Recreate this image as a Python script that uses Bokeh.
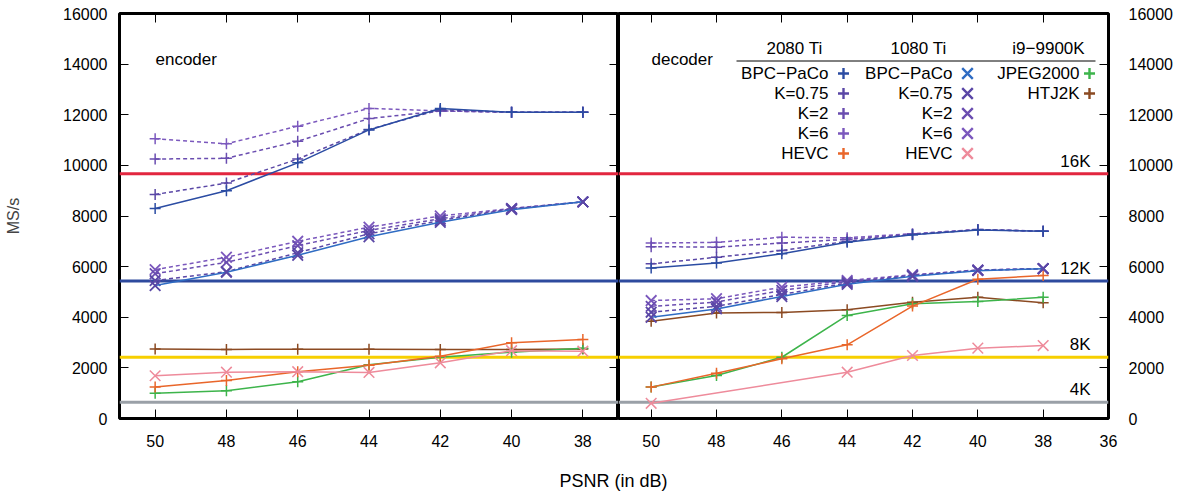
from bokeh.plotting import figure
from bokeh.models import Span, Label, LinearAxis, FixedTicker, Range1d
from bokeh.layouts import row, column
from bokeh.embed import file_html
from bokeh.resources import INLINE

FONT = "Liberation Sans"

# ---------------- data ----------------
PSNR = [50, 48, 46, 44, 42, 40, 38]
PSNR_DEC_HEVC_1080 = [50, 44, 42, 40, 38]

# encoder, RTX 2080 Ti
ENC_2080_BPC = [8300, 9000, 10100, 11400, 12250, 12100, 12100]
ENC_2080_K075 = [8850, 9300, 10250, 11420, 12200, 12100, 12100]
ENC_2080_K2 = [10250, 10280, 10950, 11850, 12150, 12100, 12100]
ENC_2080_K6 = [11050, 10850, 11550, 12250, 12150, 12100, 12100]
ENC_2080_HEVC = [1240, 1500, 1850, 2100, 2460, 2990, 3120]
# encoder, GTX 1080 Ti
ENC_1080_BPC = [5250, 5780, 6450, 7180, 7750, 8250, 8560]
ENC_1080_K075 = [5450, 5800, 6550, 7300, 7820, 8280, 8560]
ENC_1080_K2 = [5720, 6170, 6830, 7430, 7890, 8290, 8560]
ENC_1080_K6 = [5880, 6370, 7000, 7560, 8000, 8300, 8560]
ENC_1080_HEVC = [1690, 1830, 1850, 1820, 2200, 2680, 2660]
# encoder, i9-9900K
ENC_JPEG2000 = [1000, 1100, 1450, 2120, 2420, 2620, 2780]
ENC_HTJ2K = [2750, 2730, 2740, 2740, 2730, 2730, 2750]

# decoder, RTX 2080 Ti
DEC_2080_BPC = [5950, 6140, 6510, 6960, 7260, 7450, 7400]
DEC_2080_K075 = [6110, 6370, 6640, 7000, 7270, 7460, 7400]
DEC_2080_K2 = [6790, 6770, 6930, 7080, 7280, 7460, 7400]
DEC_2080_K6 = [6930, 6960, 7160, 7140, 7300, 7470, 7400]
DEC_2080_HEVC = [1240, 1790, 2360, 2910, 4440, 5500, 5650]
# decoder, GTX 1080 Ti
DEC_1080_BPC = [4000, 4330, 4820, 5300, 5620, 5840, 5920]
DEC_1080_K075 = [4200, 4430, 4900, 5350, 5640, 5850, 5920]
DEC_1080_K2 = [4430, 4600, 5060, 5400, 5660, 5860, 5920]
DEC_1080_K6 = [4660, 4730, 5190, 5450, 5680, 5870, 5920]
DEC_1080_HEVC = [600, 1830, 2490, 2780, 2880]
# decoder, i9-9900K
DEC_JPEG2000 = [1240, 1700, 2420, 4070, 4530, 4620, 4790]
DEC_HTJ2K = [3840, 4170, 4190, 4300, 4590, 4790, 4570]

REF_LABELS = ["16K", "12K", "8K", "4K"]
REF_VALUES = [9670, 5430, 2420, 640]

Y_TICKS = [0, 2000, 4000, 6000, 8000, 10000, 12000, 14000, 16000]
X_TICKS_ENC = [50, 48, 46, 44, 42, 40, 38]
X_TICKS_DEC = [50, 48, 46, 44, 42, 40, 38, 36]

# ---------------- style ----------------
REF_COLORS = ["#e2263f", "#2e4a9e", "#f7cf00", "#9aa0a7"]
C_2080_BPC = "#2b4ca3"
C_K075 = "#5a47a6"
C_K2 = "#6a4db0"
C_K6 = "#7b58bd"
C_1080_BPC = "#2f6cc3"
C_HEVC_2080 = "#e9662a"
C_HEVC_1080 = "#ee8b9b"
C_JPEG = "#3db44b"
C_HTJ2K = "#8b4a22"
DASH = "4 3"

TICK_LEN = 9
TEXT_SIZE = "17px"


def style_axis(ax, ticks, show_labels=True, standoff=12):
    ax.ticker = FixedTicker(ticks=ticks)
    ax.axis_line_color = None
    ax.major_tick_in = TICK_LEN
    ax.major_tick_out = 0
    ax.major_tick_line_color = "black"
    ax.major_tick_line_width = 1
    ax.minor_tick_line_color = None
    ax.major_label_text_font = FONT
    ax.major_label_text_font_size = "16px"
    ax.major_label_text_color = "black"
    ax.major_label_standoff = standoff
    if not show_labels:
        ax.major_label_overrides = {t: "" for t in ticks}
        ax.major_label_text_font_size = "0px"
        ax.major_label_standoff = 0


def base_fig(width, x_start, x_end, min_left, min_right, yloc):
    p = figure(width=width, height=454, x_range=Range1d(x_start, x_end),
               y_range=Range1d(0, 16000), output_backend="svg",
               toolbar_location=None, y_axis_location=yloc,
               min_border_left=min_left, min_border_right=min_right,
               min_border_top=13, min_border_bottom=36)
    p.xgrid.visible = False
    p.ygrid.visible = False
    p.outline_line_color = "black"
    p.outline_line_width = 3
    p.background_fill_color = "white"
    p.border_fill_color = "white"
    for v, c in zip(REF_VALUES, REF_COLORS):
        p.add_layout(Span(location=v, dimension="width", line_color=c,
                          line_width=3, level="underlay"))
    return p


def series(p, x, y, color, marker, dash="solid", line_color=None, mlw=1.5):
    size = 11 if marker == "cross" else 15
    p.line(x, y, line_color=line_color or color, line_width=1.5, line_dash=dash)
    p.scatter(x, y, marker=marker, size=size, line_color=color, line_width=mlw,
              fill_color=None)


# ---------------- encoder panel ----------------
p1 = base_fig(618, 51, 37, 119, 0, "left")
style_axis(p1.xaxis[0], X_TICKS_ENC, standoff=16)
style_axis(p1.yaxis[0], Y_TICKS, standoff=12)
p1.yaxis.axis_label = "MS/s"
p1.yaxis.axis_label_text_font = FONT
p1.yaxis.axis_label_text_font_size = "16px"
p1.yaxis.axis_label_text_font_style = "normal"
p1.yaxis.axis_label_standoff = 38
ax_top1 = LinearAxis()
style_axis(ax_top1, X_TICKS_ENC, show_labels=False)
p1.add_layout(ax_top1, "above")
ax_right1 = LinearAxis()
style_axis(ax_right1, Y_TICKS, show_labels=False)
p1.add_layout(ax_right1, "right")

series(p1, PSNR, ENC_HTJ2K, C_HTJ2K, "cross")
series(p1, PSNR, ENC_JPEG2000, C_JPEG, "cross")
series(p1, PSNR, ENC_2080_HEVC, C_HEVC_2080, "cross")
series(p1, PSNR, ENC_1080_HEVC, C_HEVC_1080, "x")
series(p1, PSNR, ENC_2080_K6, C_K6, "cross", DASH)
series(p1, PSNR, ENC_2080_K2, C_K2, "cross", DASH)
series(p1, PSNR, ENC_2080_K075, C_K075, "cross", DASH)
series(p1, PSNR, ENC_2080_BPC, C_2080_BPC, "cross")
series(p1, PSNR, ENC_1080_K6, C_K6, "x", DASH, mlw=1.8)
series(p1, PSNR, ENC_1080_K2, C_K2, "x", DASH, mlw=1.8)
series(p1, PSNR, ENC_1080_K075, C_K075, "x", DASH, mlw=1.8)
series(p1, PSNR, ENC_1080_BPC, C_K075, "x", line_color=C_1080_BPC, mlw=1.8)

p1.add_layout(Label(x=36, y=359, x_units="screen", y_units="screen", text="encoder",
                    text_font=FONT, text_font_size=TEXT_SIZE, text_baseline="middle",
                    text_align="left", text_color="black"))

# ---------------- decoder panel ----------------
p2 = base_fig(560, 51, 36, 0, 70, "right")
style_axis(p2.xaxis[0], X_TICKS_DEC, standoff=16)
style_axis(p2.yaxis[0], Y_TICKS, standoff=20)
ax_top2 = LinearAxis()
style_axis(ax_top2, X_TICKS_ENC, show_labels=False)
p2.add_layout(ax_top2, "above")

series(p2, PSNR, DEC_HTJ2K, C_HTJ2K, "cross")
series(p2, PSNR, DEC_JPEG2000, C_JPEG, "cross")
series(p2, PSNR, DEC_2080_HEVC, C_HEVC_2080, "cross")
series(p2, PSNR_DEC_HEVC_1080, DEC_1080_HEVC, C_HEVC_1080, "x")
series(p2, PSNR, DEC_2080_K6, C_K6, "cross", DASH)
series(p2, PSNR, DEC_2080_K2, C_K2, "cross", DASH)
series(p2, PSNR, DEC_2080_K075, C_K075, "cross", DASH)
series(p2, PSNR, DEC_2080_BPC, C_2080_BPC, "cross")
series(p2, PSNR, DEC_1080_K6, C_K6, "x", DASH, mlw=1.8)
series(p2, PSNR, DEC_1080_K2, C_K2, "x", DASH, mlw=1.8)
series(p2, PSNR, DEC_1080_K075, C_K075, "x", DASH, mlw=1.8)
series(p2, PSNR, DEC_1080_BPC, C_K075, "x", line_color=C_1080_BPC, mlw=1.8)

p2.add_layout(Label(x=33, y=359, x_units="screen", y_units="screen", text="decoder",
                    text_font=FONT, text_font_size=TEXT_SIZE, text_baseline="middle",
                    text_align="left", text_color="black"))

for name, v in zip(REF_LABELS, REF_VALUES):
    p2.add_layout(Label(x=472, y=v, x_units="screen", y_units="data", text=name,
                        text_font=FONT, text_font_size=TEXT_SIZE, text_baseline="bottom",
                        text_align="right", y_offset=3, text_color="black"))

# ---------------- legend (layout in pixels of the decoder frame) ----------------
FRAME_L, FRAME_B, FRAME_W, FRAME_H = 618, 418, 490, 405


def px_data(px, py):
    return 51 - (px - FRAME_L) * 15 / FRAME_W, (FRAME_B - py) * 16000 / FRAME_H


HEADERS = ["2080 Ti", "1080 Ti", "i9\u22129900K"]
HEADER_X = [794, 918, 1048]
COL_TEXT_X = [828, 952, 1079]
COL_MARK_X = [843, 967, 1089]
ROW_Y = [73, 93, 113, 133, 153]
LEGEND_COLS = [
    [("BPC\u2212PaCo", C_2080_BPC, "cross"), ("K=0.75", C_K075, "cross"),
     ("K=2", C_K2, "cross"), ("K=6", C_K6, "cross"), ("HEVC", C_HEVC_2080, "cross")],
    [("BPC\u2212PaCo", C_1080_BPC, "x"), ("K=0.75", C_K075, "x"),
     ("K=2", C_K2, "x"), ("K=6", C_K6, "x"), ("HEVC", C_HEVC_1080, "x")],
    [("JPEG2000", C_JPEG, "cross"), ("HTJ2K", C_HTJ2K, "cross")],
]

for h, hx in zip(HEADERS, HEADER_X):
    p2.add_layout(Label(x=hx - FRAME_L, y=FRAME_B - 48, x_units="screen", y_units="screen",
                        text=h, text_font=FONT, text_font_size=TEXT_SIZE,
                        text_baseline="middle", text_align="center", text_color="black"))
x0, yr = px_data(736, 60.5)
x1, _ = px_data(1095, 60.5)
p2.segment(x0=[x0], y0=[yr], x1=[x1], y1=[yr], line_color="black", line_width=1)

for col, tx, mx in zip(LEGEND_COLS, COL_TEXT_X, COL_MARK_X):
    for (lab, c, m), ry in zip(col, ROW_Y):
        p2.add_layout(Label(x=tx - FRAME_L, y=FRAME_B - ry, x_units="screen",
                            y_units="screen", text=lab, text_font=FONT,
                            text_font_size=TEXT_SIZE, text_baseline="middle",
                            text_align="right", text_color="black"))
        lx, ly = px_data(mx, ry)
        p2.scatter([lx], [ly], marker=m, size=11 if m == "cross" else 15,
                   line_color=c, line_width=2.4)

# ---------------- x axis title ----------------
p3 = figure(width=1178, height=40, output_backend="svg", toolbar_location=None,
            x_range=Range1d(0, 1), y_range=Range1d(0, 1),
            x_axis_location=None, y_axis_location=None, min_border=0)
p3.xgrid.visible = False
p3.ygrid.visible = False
p3.outline_line_color = None
p3.add_layout(Label(x=613, y=14, x_units="screen", y_units="screen", text="PSNR (in dB)",
                    text_font=FONT, text_font_size="18px", text_baseline="middle",
                    text_align="center", text_color="black"))

layout = column(row(p1, p2), p3)
open("out.html", "w").write(file_html(layout, INLINE))
